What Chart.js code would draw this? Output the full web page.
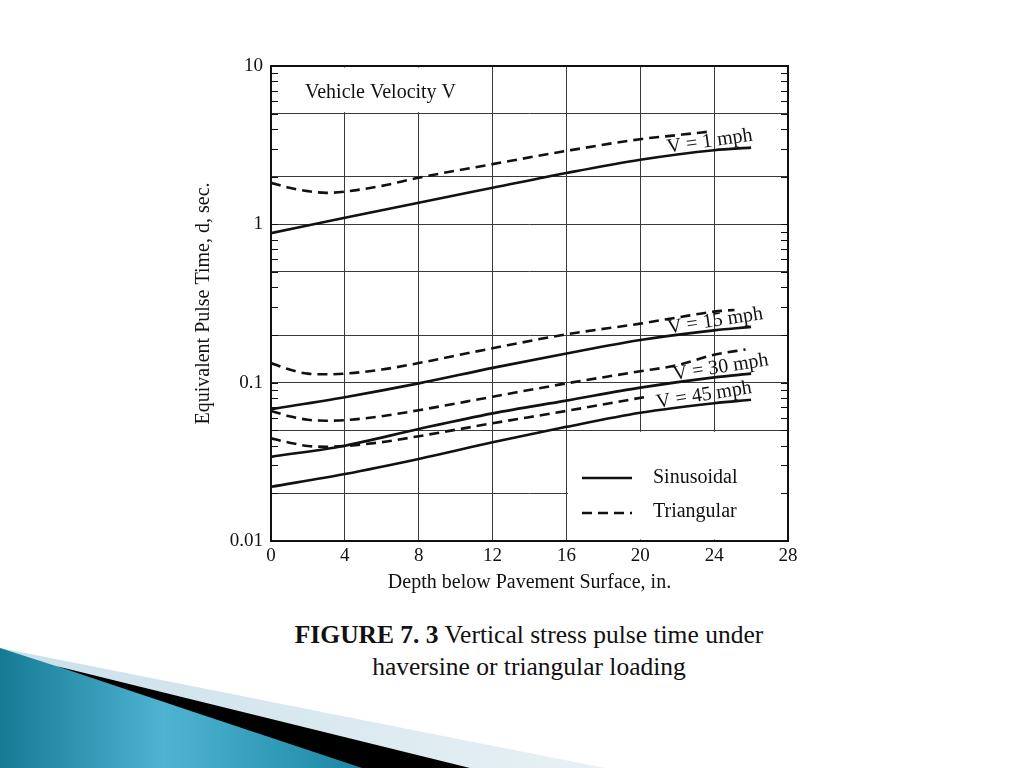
<!DOCTYPE html>
<html>
<head>
<meta charset="utf-8">
<title>Figure 7.3</title>
<script src="https://cdn.jsdelivr.net/npm/chart.js@4.4.1/dist/chart.umd.min.js"></script>
<style>
  html, body { margin: 0; padding: 0; background: #fff; }
  body { width: 1024px; height: 768px; position: relative; overflow: hidden; font-family: "Liberation Serif", serif; }
  #deco { position: absolute; left: 0; top: 0; }
  #wrap { position: absolute; left: 0; top: 0; width: 1024px; height: 610px; }
  #caption { position: absolute; left: 0; top: 619px; width: 1058px; text-align: center;
             font-size: 25.5px; line-height: 32px; color: #111; }
</style>
</head>
<body>
<svg id="deco" width="1024" height="768">
  <defs>
    <linearGradient id="teal" x1="0" y1="0" x2="1" y2="0">
      <stop offset="0" stop-color="#157a94"/>
      <stop offset="0.45" stop-color="#4fb4d2"/>
      <stop offset="1" stop-color="#1a86a3"/>
    </linearGradient>
    <linearGradient id="pale" x1="0" y1="0" x2="1" y2="0">
      <stop offset="0" stop-color="#c9e0ea"/>
      <stop offset="1" stop-color="#e8f1f5"/>
    </linearGradient>
  </defs>
  <polygon points="0,648 605,768 0,768" fill="url(#pale)"/>
  <polygon points="0,648 62,668 365,768 0,768" fill="url(#teal)"/>
  <polygon points="56,666 470,768 362,768" fill="#000"/>
</svg>
<div id="wrap"><canvas id="pulseChart"></canvas></div>
<div id="caption"><b>FIGURE 7. 3</b> Vertical stress pulse time under<br>haversine or triangular loading</div>

<script>
// Datos (profundidad en pulgadas, tiempo en segundos)
const depthSin = [0, 4, 8, 12, 16, 20, 24, 26];
const v1Sin  = [0.88, 1.10, 1.37, 1.70, 2.11, 2.56, 2.94, 3.05];
const v15Sin = [0.068, 0.081, 0.099, 0.124, 0.153, 0.186, 0.214, 0.225];
const v30Sin = [0.034, 0.040, 0.051, 0.064, 0.077, 0.093, 0.108, 0.114];
const v45Sin = [0.022, 0.0265, 0.033, 0.042, 0.0526, 0.0646, 0.0742, 0.078];

const depthTri1  = [0, 1, 2, 3, 4, 6, 8, 12, 16, 20, 22, 23.9];
const v1Tri      = [1.83, 1.70, 1.62, 1.58, 1.61, 1.75, 1.97, 2.40, 2.91, 3.45, 3.66, 3.87];
const depthTri15 = [0, 1, 2, 3, 4, 6, 8, 12, 16, 20, 22, 24, 25.1];
const v15Tri     = [0.133, 0.121, 0.114, 0.113, 0.114, 0.121, 0.133, 0.165, 0.202, 0.236, 0.258, 0.281, 0.288];
const depthTri30 = [0, 1, 2, 3, 4, 6, 8, 12, 16, 20, 22, 24, 25.7];
const v30Tri     = [0.0663, 0.0614, 0.0583, 0.0575, 0.058, 0.0614, 0.067, 0.0815, 0.099, 0.118, 0.129, 0.150, 0.162];
const depthTri45 = [0, 1, 2, 3, 4, 6, 8, 12, 16, 20.2];
const v45Tri     = [0.0445, 0.0418, 0.0398, 0.0394, 0.0398, 0.0421, 0.0459, 0.0554, 0.0663, 0.081];

const speedLabels = ['V = 1 mph', 'V = 15 mph', 'V = 30 mph', 'V = 45 mph'];
const labelDepth  = [23.8, 24.1, 24.4, 23.5];

const xTicks   = [0, 4, 8, 12, 16, 20, 24, 28];
const yLabeled = [0.01, 0.1, 1, 10];
const yGridMantissa = [1, 2, 5];
const yMarkMantissa = [1, 2, 3, 4, 5, 6, 7, 8, 9];

const FONT = '"Liberation Serif", "Times New Roman", serif';
const INK = '#111';
const GRID = '#3a3a3a';

function pairs(xs, ys) {
    return xs.map((v, i) => ({ x: v, y: ys[i] }));
}

// interpolación (en log) para colocar las etiquetas sobre las curvas
function valueAt(xs, ys, x) {
    for (let i = 1; i < xs.length; i++) {
        if (x <= xs[i]) {
            const t = (x - xs[i - 1]) / (xs[i] - xs[i - 1]);
            return Math.pow(10, Math.log10(ys[i - 1]) + t * (Math.log10(ys[i]) - Math.log10(ys[i - 1])));
        }
    }
    return ys[ys.length - 1];
}

function mantissa(v) {
    const m = v / Math.pow(10, Math.floor(Math.log10(v) + 1e-9));
    return Math.round(m * 100) / 100;
}

const yTickValues = [];
for (let e = -2; e <= 0; e++) {
    yMarkMantissa.forEach(m => yTickValues.push(+(m * Math.pow(10, e)).toPrecision(3)));
}
yTickValues.push(10);

const sinSeries = [v1Sin, v15Sin, v30Sin, v45Sin];
const triSeries = [[depthTri1, v1Tri], [depthTri15, v15Tri], [depthTri30, v30Tri], [depthTri45, v45Tri]];

const datasets = [];
sinSeries.forEach((ys, i) => datasets.push({
    label: speedLabels[i] + ' Sinusoidal',
    data: pairs(depthSin, ys),
    borderColor: INK,
    borderWidth: 2.6,
    pointRadius: 0,
    fill: false,
    cubicInterpolationMode: 'monotone'
}));
triSeries.forEach((s, i) => datasets.push({
    label: speedLabels[i] + ' Triangular',
    data: pairs(s[0], s[1]),
    borderColor: INK,
    borderWidth: 2.6,
    borderDash: [10, 6],
    pointRadius: 0,
    fill: false,
    cubicInterpolationMode: 'monotone'
}));

// Marcas de la figura: recuadro, marcas menores, rótulos y leyenda
const figurePlugin = {
    id: 'figureMarks',
    beforeDatasetsDraw(chart) {
        const { ctx, scales: { x, y } } = chart;
        ctx.save();
        ctx.fillStyle = '#fff';
        // zonas sin cuadrícula (rótulo superior y leyenda)
        [[0, 11, 5, 10], [16, 28, 0.01, 0.05]].forEach(b => {
            const l = x.getPixelForValue(b[0]) + 1.5, r = x.getPixelForValue(b[1]) - 1.5;
            const t = y.getPixelForValue(b[3]) + 1.5, btm = y.getPixelForValue(b[2]) - 1.5;
            ctx.fillRect(l, t, r - l, btm - t);
        });
        ctx.restore();
    },
    afterDatasetsDraw(chart) {
        const { ctx, chartArea: a, scales: { x, y } } = chart;
        ctx.save();
        ctx.strokeStyle = INK;
        ctx.lineWidth = 2;
        ctx.strokeRect(a.left, a.top, a.right - a.left, a.bottom - a.top);

        ctx.lineWidth = 1.2;
        yTickValues.forEach(v => {
            const py = Math.round(y.getPixelForValue(v)) + 0.5;
            ctx.beginPath();
            ctx.moveTo(a.left, py); ctx.lineTo(a.left + 7, py);
            ctx.moveTo(a.right, py); ctx.lineTo(a.right - 7, py);
            ctx.stroke();
        });

        ctx.fillStyle = INK;
        ctx.font = '20px ' + FONT;
        ctx.textAlign = 'left';
        ctx.textBaseline = 'middle';
        ctx.fillText('Vehicle Velocity V', 305, 93);

        // rótulos de velocidad
        ctx.textAlign = 'center';
        ctx.textBaseline = 'alphabetic';
        sinSeries.forEach((ys, i) => {
            const d = labelDepth[i];
            const px = x.getPixelForValue(d);
            const py = y.getPixelForValue(valueAt(depthSin, ys, d));
            const p1 = y.getPixelForValue(valueAt(depthSin, ys, d - 1.5));
            const p2 = y.getPixelForValue(valueAt(depthSin, ys, d + 1.5));
            const ang = Math.atan2(p2 - p1, x.getPixelForValue(d + 1.5) - x.getPixelForValue(d - 1.5)) - 0.04;
            ctx.save();
            ctx.translate(px, py - 4);
            ctx.rotate(ang);
            ctx.fillText(speedLabels[i], 0, 0);
            ctx.restore();
        });

        // leyenda
        ctx.lineWidth = 2.6;
        ctx.beginPath();
        ctx.moveTo(582, 478); ctx.lineTo(632, 478);
        ctx.stroke();
        ctx.setLineDash([10, 6]);
        ctx.beginPath();
        ctx.moveTo(582, 513); ctx.lineTo(632, 513);
        ctx.stroke();
        ctx.setLineDash([]);
        ctx.textAlign = 'left';
        ctx.textBaseline = 'middle';
        ctx.fillText('Sinusoidal', 653, 478);
        ctx.fillText('Triangular', 653, 512);
        ctx.restore();
    }
};

const pulseCtx = document.getElementById('pulseChart').getContext('2d');
const pulseChart = new Chart(pulseCtx, {
    type: 'line',
    data: { datasets: datasets },
    options: {
        responsive: true,
        maintainAspectRatio: false,
        animation: false,
        layout: { padding: { left: 190, top: 66, right: 236, bottom: 15 } },
        plugins: {
            legend: { display: false },
            tooltip: { enabled: false }
        },
        scales: {
            x: {
                type: 'linear',
                min: 0,
                max: 28,
                afterBuildTicks: scale => { scale.ticks = xTicks.map(v => ({ value: v })); },
                afterFit: scale => { scale.height = 54; },
                ticks: { color: INK, font: { family: FONT, size: 19 }, padding: 4, maxRotation: 0 },
                grid: { color: GRID, lineWidth: 1, drawTicks: false },
                border: { display: false },
                title: {
                    display: true,
                    text: 'Depth below Pavement Surface, in.',
                    color: INK,
                    font: { family: FONT, size: 20 },
                    padding: { top: 0, bottom: 0 }
                }
            },
            y: {
                type: 'logarithmic',
                min: 0.01,
                max: 10,
                afterBuildTicks: scale => { scale.ticks = yTickValues.map(v => ({ value: v })); },
                afterFit: scale => { scale.width = 81; },
                ticks: {
                    autoSkip: false,
                    color: INK,
                    font: { family: FONT, size: 19 },
                    padding: 8,
                    callback: v => yLabeled.some(t => Math.abs(t - v) / t < 1e-6) ? String(v) : ''
                },
                grid: {
                    drawTicks: false,
                    lineWidth: 1,
                    color: c => (c.tick && yGridMantissa.includes(mantissa(c.tick.value))) ? GRID : 'rgba(0,0,0,0)'
                },
                border: { display: false },
                title: {
                    display: true,
                    text: 'Equivalent Pulse Time, d, sec.',
                    color: INK,
                    font: { family: FONT, size: 20 },
                    padding: { top: 2, bottom: 0 }
                }
            }
        }
    },
    plugins: [figurePlugin]
});
</script>
</body>
</html>
